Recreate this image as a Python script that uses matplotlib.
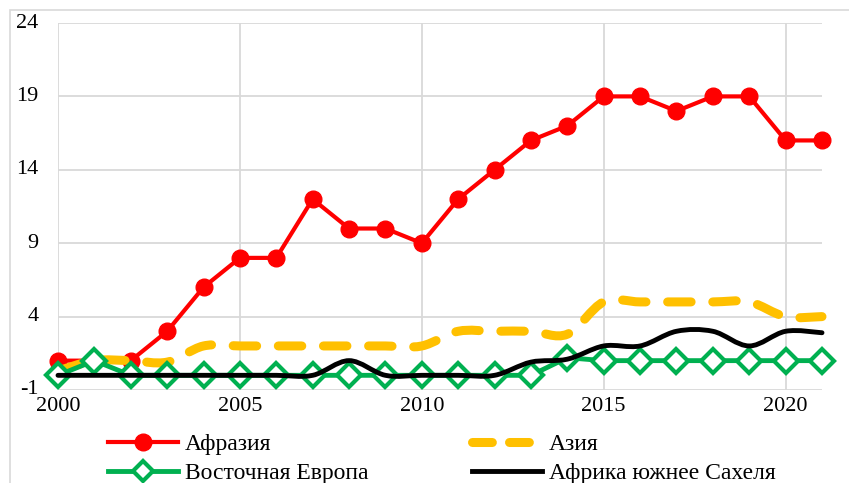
import matplotlib.pyplot as plt
import numpy as np
from matplotlib.path import Path
from matplotlib.patches import PathPatch, Rectangle
from matplotlib.lines import Line2D

plt.rcParams['font.family'] = ['Liberation Serif', 'DejaVu Serif']
plt.rcParams['axes.unicode_minus'] = False

years = list(range(2000, 2022))
afrasia = [1, 1, 1, 3, 6, 8, 8, 12, 10, 10, 9, 12, 14, 16, 17, 19, 19, 18, 19, 19, 16, 16]
asia = [0.3, 1, 1, 0.9, 2, 2, 2, 2, 2, 2, 2, 3, 3, 3, 2.8, 5, 5, 5, 5, 5, 4, 4]
east_europe = [0, 1, 0, 0, 0, 0, 0, 0, 0, 0, 0, 0, 0, 0, 1.2, 1, 1, 1, 1, 1, 1, 1]
sahel = [0, 0, 0, 0, 0, 0, 0, 0, 1, 0, 0, 0, 0, 0.9, 1.1, 2, 2, 3, 3, 2, 3, 2.9]

labels = ['Афразия', 'Азия', 'Восточная Европа', 'Африка южнее Сахеля']
yticks = [-1, 4, 9, 14, 19, 24]
xticks = [2000, 2005, 2010, 2015, 2020]


def smooth_path(x, y):
    # excel-like smoothed line: bezier segments through the points
    x = np.asarray(x, float)
    y = np.asarray(y, float)
    pts = np.column_stack([x, y])
    ext = np.vstack([pts[0], pts, pts[-1]])
    verts = [pts[0]]
    codes = [Path.MOVETO]
    for i in range(len(pts) - 1):
        p0, p1, p2, p3 = ext[i], ext[i + 1], ext[i + 2], ext[i + 3]
        verts += [p1 + (p2 - p0) / 6, p2 - (p3 - p1) / 6, p2]
        codes += [Path.CURVE4] * 3
    return Path(verts, codes)


fig = plt.figure(figsize=(8.49, 4.83), dpi=100)
ax = fig.add_axes([58 / 849, 1 - 390 / 483, (822 - 58) / 849, (390 - 23) / 483])

fig.patches.append(Rectangle((10 / 849, -0.1), 1.2, 1.1 - 10 / 483,
                             transform=fig.transFigure, fill=False,
                             edgecolor='#d9d9d9', linewidth=1.2))

ax.plot(years, afrasia, color='#ff0000', lw=3, marker='o', ms=12,
        zorder=3, clip_on=False)

p_asia = PathPatch(smooth_path(years, asia), fill=False, edgecolor='#ffc000',
                   lw=6.5, linestyle=(0, (2.6, 2.4)), capstyle='round',
                   zorder=4, clip_on=False)
ax.add_patch(p_asia)

ax.plot(years, east_europe, color='#00b050', lw=3.5, marker='D', ms=12,
        mfc='white', mec='#00b050', mew=3, zorder=5, clip_on=False)

p_sahel = PathPatch(smooth_path(years, sahel), fill=False, edgecolor='black',
                    lw=3.5, capstyle='round', zorder=6, clip_on=False)
ax.add_patch(p_sahel)

ax.set_xlim(2000, 2021)
ax.set_ylim(-1, 24)
ax.set_xticks(xticks)
ax.set_yticks(yticks)
ax.tick_params(length=0, labelsize=16, colors='black')
ax.tick_params(axis='y', pad=14)
ax.tick_params(axis='x', pad=5)
for lab in ax.get_yticklabels():
    lab.set_verticalalignment('center')
ax.grid(True, color='#d9d9d9', lw=1.3)
ax.set_axisbelow(True)
for s in ax.spines.values():
    s.set_visible(False)

handles = [
    Line2D([], [], color='#ff0000', lw=3, marker='o', ms=12),
    Line2D([], [], color='#00b050', lw=3.5, marker='D', ms=10, mfc='white',
           mec='#00b050', mew=3),
    Line2D([], [], color='#ffc000', lw=6.5, linestyle=(0, (2.2, 1.9)),
           dash_capstyle='round'),
    Line2D([], [], color='black', lw=3.5),
]
leg_labels = [labels[0], labels[2], labels[1], labels[3]]
fig.legend(handles, leg_labels, ncol=2, loc='center',
           bbox_to_anchor=(442 / 849, 1 - 459 / 483), frameon=False,
           fontsize=17, handlelength=2.95, handletextpad=0.3,
           columnspacing=4.4, labelspacing=0.3, borderpad=0)

fig.savefig('out.png', dpi=100)
